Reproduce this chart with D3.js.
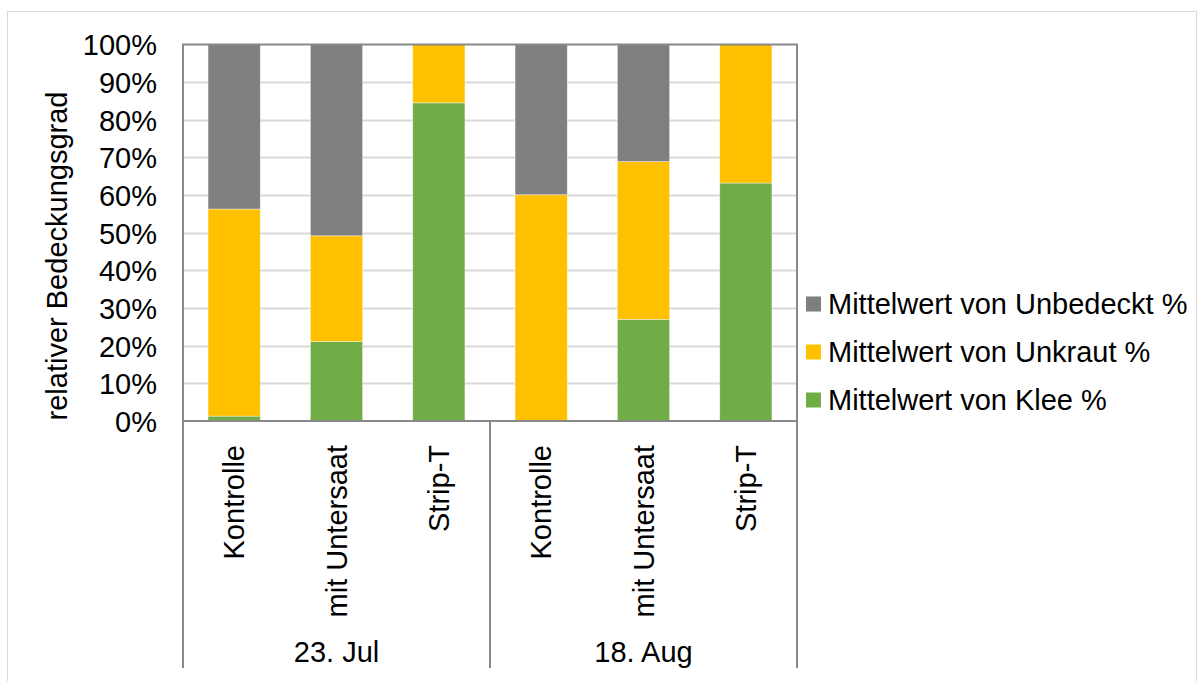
<!DOCTYPE html>
<html>
<head>
<meta charset="utf-8">
<script src="https://cdn.jsdelivr.net/npm/d3@7"></script>
<style>
  body { margin: 0; background: #fff; }
  text { font-family: "Liberation Sans", Arial, sans-serif; fill: #000; }
</style>
</head>
<body>
<div id="chart"></div>
<script>
// Data
var dates = ["23. Jul", "18. Aug"];
var treatments = ["Kontrolle", "mit Untersaat", "Strip-T"];
var klee      = [1.3, 21.1, 84.5, 0.0, 27.0, 63.2];
var unkraut   = [55.0, 28.1, 15.5, 60.1, 41.9, 36.8];
var unbedeckt = [43.7, 50.8, 0.0, 39.9, 31.1, 0.0];
var seriesNames = ["Mittelwert von Klee %", "Mittelwert von Unkraut %", "Mittelwert von Unbedeckt %"];
var yTicks = [0, 10, 20, 30, 40, 50, 60, 70, 80, 90, 100];

var colors = { klee: "#70ad47", unkraut: "#ffc000", unbedeckt: "#7f7f7f" };
var fontSize = "29px";

// build rows for the stack
var rows = [];
dates.forEach(function (d, i) {
    treatments.forEach(function (t, j) {
        var k = i * treatments.length + j;
        rows.push({ key: d + "|" + t, date: d, treatment: t,
            klee: klee[k], unkraut: unkraut[k], unbedeckt: unbedeckt[k] });
    });
});

var W = 1204, H = 681;
var plot = { left: 183, right: 797, top: 44.5, bottom: 421 };

var svg = d3.select("#chart").append("svg")
    .attr("width", W)
    .attr("height", H);

// outer chart border
svg.append("rect")
    .attr("x", 7.5).attr("y", 11.5)
    .attr("width", 1189).attr("height", 690)
    .attr("fill", "none")
    .attr("stroke", "#d9d9d9");

var x = d3.scaleBand()
    .domain(rows.map(d => d.key))
    .range([plot.left, plot.right])
    .paddingInner(0.49)
    .paddingOuter(0.245);

var y = d3.scaleLinear()
    .domain([0, 100])
    .range([plot.bottom, plot.top]);

// gridlines
svg.append("g")
    .selectAll("line")
    .data(yTicks.filter(t => t > 0 && t < 100))
    .enter().append("line")
    .attr("x1", plot.left).attr("x2", plot.right)
    .attr("y1", d => Math.round(y(d)) + 0.5).attr("y2", d => Math.round(y(d)) + 0.5)
    .attr("stroke", "#d9d9d9")
    .attr("stroke-width", 2);

// stacked bars
var keys = ["klee", "unkraut", "unbedeckt"];
var stacked = d3.stack().keys(keys)(rows);

svg.append("g")
    .selectAll("g")
    .data(stacked)
    .enter().append("g")
    .attr("fill", d => colors[d.key])
    .selectAll("rect")
    .data(d => d)
    .enter().append("rect")
    .attr("x", d => x(d.data.key))
    .attr("width", x.bandwidth())
    .attr("y", d => y(d[1]))
    .attr("height", d => y(d[0]) - y(d[1]))
    .attr("stroke", "#fff")
    .attr("stroke-opacity", d => (d[1] - d[0]) > 0 ? 0.5 : 0)
    .attr("stroke-width", 0.75);

// plot frame
svg.append("rect")
    .attr("x", plot.left).attr("y", plot.top)
    .attr("width", plot.right - plot.left)
    .attr("height", plot.bottom - plot.top)
    .attr("fill", "none")
    .attr("stroke", "#898989")
    .attr("stroke-width", 2);

// y axis labels
var yAxis = d3.axisLeft(y)
    .tickValues(yTicks)
    .tickFormat(d => d + "%")
    .tickSize(0)
    .tickPadding(26);
var yg = svg.append("g")
    .attr("transform", "translate(" + plot.left + ",0)")
    .call(yAxis);
yg.select(".domain").remove();
yg.selectAll("text")
    .style("font-size", fontSize)
    .attr("fill", "#000")
    .attr("dy", "0.36em");

// y axis title
svg.append("text")
    .attr("transform", "translate(67,256) rotate(-90)")
    .attr("text-anchor", "middle")
    .style("font-size", fontSize)
    .text("relativer Bedeckungsgrad");

// category axis (two levels)
var catBottom = 668;
var groupWidth = (plot.right - plot.left) / dates.length;
var seps = d3.range(dates.length + 1).map(i => plot.left + i * groupWidth);

svg.append("g")
    .selectAll("line")
    .data(seps)
    .enter().append("line")
    .attr("x1", d => d).attr("x2", d => d)
    .attr("y1", plot.bottom).attr("y2", catBottom)
    .attr("stroke", "#898989")
    .attr("stroke-width", 2);

// treatment labels, rotated
svg.append("g")
    .selectAll("text")
    .data(rows)
    .enter().append("text")
    .attr("transform", d => "translate(" + (x(d.key) + x.bandwidth() / 2 + 10) + ",445) rotate(-90)")
    .attr("text-anchor", "end")
    .style("font-size", fontSize)
    .text(d => d.treatment);

// date labels
svg.append("g")
    .selectAll("text")
    .data(dates)
    .enter().append("text")
    .attr("x", (d, i) => plot.left + (i + 0.5) * groupWidth)
    .attr("y", 662)
    .attr("text-anchor", "middle")
    .style("font-size", fontSize)
    .text(d => d);

// legend (reverse order like the reference)
var legendItems = keys.map((k, i) => ({ key: k, name: seriesNames[i] })).reverse();
var lg = svg.append("g")
    .selectAll("g")
    .data(legendItems)
    .enter().append("g")
    .attr("transform", (d, i) => "translate(806," + (304 + i * 48) + ")");
lg.append("rect")
    .attr("x", 0).attr("y", -7.5)
    .attr("width", 15).attr("height", 15)
    .attr("fill", d => colors[d.key]);
lg.append("text")
    .attr("x", 22)
    .attr("dy", "0.36em")
    .style("font-size", fontSize)
    .text(d => d.name);
</script>
</body>
</html>
